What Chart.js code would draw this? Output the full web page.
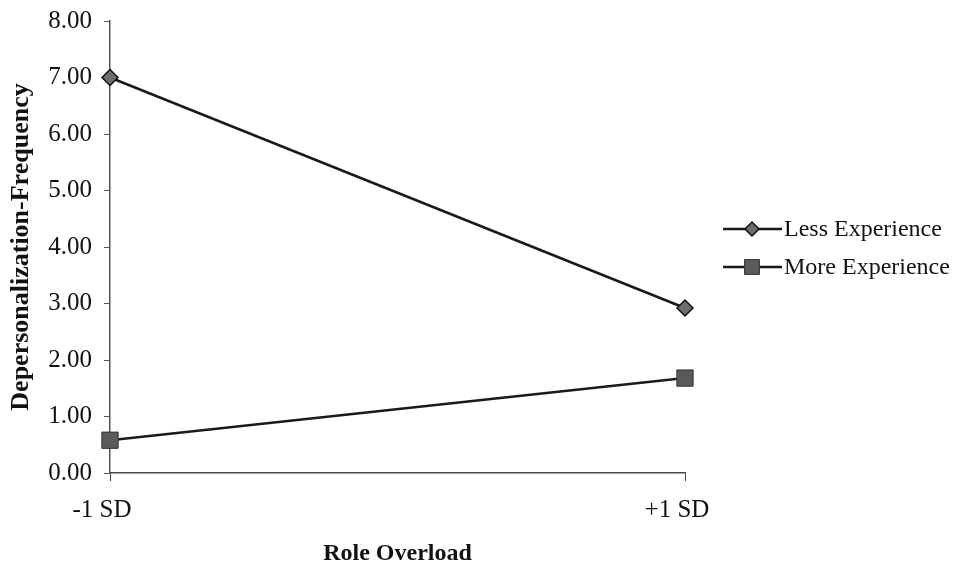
<!DOCTYPE html>
<html>
<head>
<meta charset="utf-8">
<script src="https://cdn.jsdelivr.net/npm/chart.js@4/dist/chart.umd.min.js"></script>
<style>
html,body{margin:0;padding:0;background:#fff;}
#wrap{width:956px;height:565px;}
</style>
</head>
<body>
<div id="wrap"><canvas id="c" width="956" height="565"></canvas></div>
<script>
const categories = ["-1 SD", "+1 SD"];
const lessExperience = [7.00, 2.92];
const moreExperience = [0.58, 1.68];
const seriesNames = ["Less Experience", "More Experience"];
const yTitle = "Depersonalization-Frequency";
const xTitle = "Role Overload";

const serif = "'Liberation Serif', 'Times New Roman', serif";

const legendPlugin = {
  id: 'lineLegend',
  afterDraw(chart) {
    const ctx = chart.ctx;
    const rows = [229, 267];
    chart.data.datasets.forEach((ds, i) => {
      const y = rows[i];
      ctx.save();
      ctx.strokeStyle = ds.borderColor;
      ctx.lineWidth = ds.borderWidth;
      ctx.beginPath();
      ctx.moveTo(723, y);
      ctx.lineTo(782, y);
      ctx.stroke();
      ctx.fillStyle = ds.pointBackgroundColor;
      ctx.strokeStyle = ds.pointBorderColor;
      ctx.lineWidth = ds.pointBorderWidth;
      Chart.helpers.drawPoint(ctx, {
        pointStyle: ds.pointStyle,
        radius: ds.legendRadius,
        borderWidth: ds.pointBorderWidth
      }, 752, y);
      ctx.fillStyle = '#111';
      ctx.font = "24px " + serif;
      ctx.textBaseline = 'middle';
      ctx.textAlign = 'left';
      ctx.fillText(ds.label, 784, y + 1);
      ctx.restore();
    });
  }
};

new Chart(document.getElementById('c'), {
  type: 'line',
  data: {
    labels: categories,
    datasets: [
      {
        label: seriesNames[0],
        data: lessExperience,
        borderColor: '#1a1a1a',
        borderWidth: 2.5,
        pointStyle: 'rectRot',
        pointRadius: 8,
        legendRadius: 7,
        pointBackgroundColor: '#6e6e6e',
        pointBorderColor: '#111',
        pointBorderWidth: 1.5,
        tension: 0
      },
      {
        label: seriesNames[1],
        data: moreExperience,
        borderColor: '#1a1a1a',
        borderWidth: 2.5,
        pointStyle: 'rect',
        pointRadius: 11.5,
        legendRadius: 10.5,
        pointBackgroundColor: '#5a5a5a',
        pointBorderColor: '#333',
        pointBorderWidth: 1,
        tension: 0
      }
    ]
  },
  options: {
    responsive: false,
    devicePixelRatio: 1,
    animation: false,
    layout: { padding: { top: 21, right: 271, left: 0, bottom: 0 } },
    plugins: {
      legend: { display: false },
      tooltip: { enabled: false }
    },
    scales: {
      x: {
        type: 'category',
        offset: false,
        afterFit(scale) { scale.height = 92; },
        grid: {
          display: true,
          drawOnChartArea: false,
          drawTicks: true,
          tickLength: 8,
          color: '#444'
        },
        border: { display: true, color: '#444', width: 1.5 },
        ticks: {
          color: '#111',
          font: { family: serif, size: 25 },
          padding: 14,
          labelOffset: -8,
          maxRotation: 0
        },
        title: {
          display: true,
          text: xTitle,
          color: '#111',
          font: { family: serif, size: 24, weight: 'bold' },
          padding: { top: 0, bottom: -3 }
        }
      },
      y: {
        min: 0,
        max: 8,
        afterFit(scale) {
          scale.width = 110;
          scale.paddingTop = 0;
          scale.paddingBottom = 0;
        },
        ticks: {
          stepSize: 1,
          color: '#111',
          font: { family: serif, size: 25 },
          padding: 12,
          callback: (v) => Number(v).toFixed(2)
        },
        grid: {
          display: true,
          drawOnChartArea: false,
          drawTicks: true,
          tickLength: 6,
          color: '#555'
        },
        border: { display: true, color: '#555', width: 1.5 },
        title: {
          display: true,
          text: yTitle,
          color: '#111',
          font: { family: serif, size: 26, weight: 'bold' },
          padding: { top: 6, bottom: 0 }
        }
      }
    }
  },
  plugins: [legendPlugin]
});
</script>
</body>
</html>
